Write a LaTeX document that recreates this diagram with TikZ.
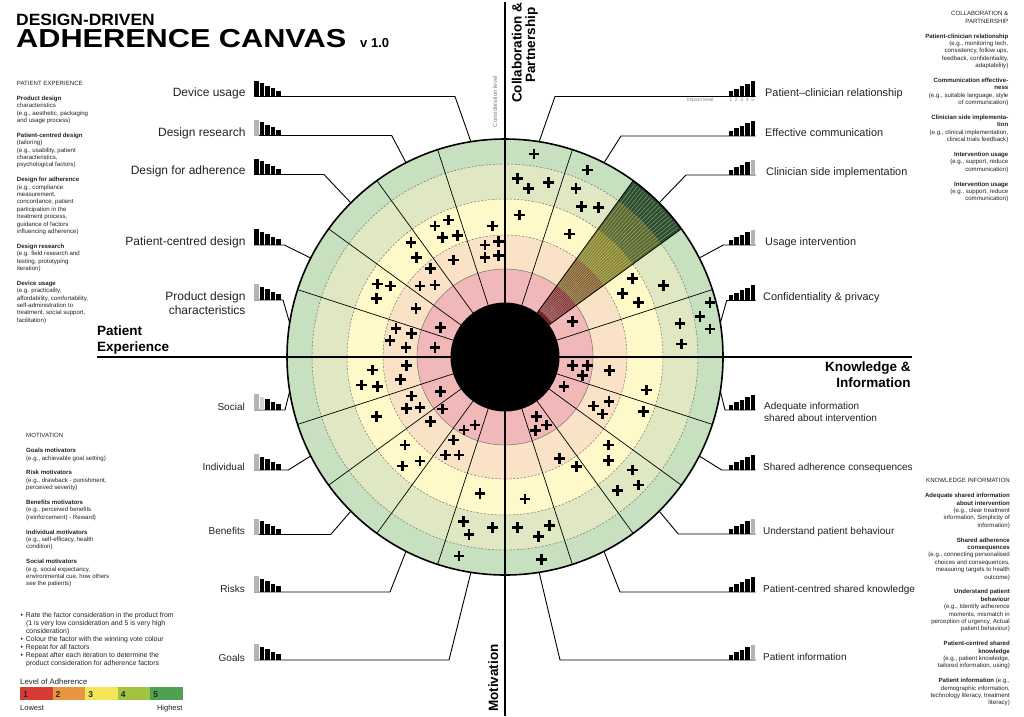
\documentclass[tikz,border=0pt]{standalone}
\usepackage{fontspec}
\setmainfont{Liberation Sans}
\usetikzlibrary{calc}
\definecolor{ringA}{HTML}{F0B8B8}
\definecolor{ringB}{HTML}{FAE2C6}
\definecolor{ringC}{HTML}{FFF8C8}
\definecolor{ringD}{HTML}{DFE8C2}
\definecolor{ringE}{HTML}{C6E0C0}
\definecolor{wA}{HTML}{6E1212}
\definecolor{wB}{HTML}{74501A}
\definecolor{wC}{HTML}{7E7C1E}
\definecolor{wD}{HTML}{4F5E20}
\definecolor{wE}{HTML}{1E4220}
\definecolor{barg}{HTML}{B4B4B4}
\definecolor{bargl}{HTML}{D2D2D2}
\definecolor{txt}{HTML}{222222}
\definecolor{lvA}{HTML}{D83A34}
\definecolor{lvB}{HTML}{E8963E}
\definecolor{lvC}{HTML}{F4E558}
\definecolor{lvD}{HTML}{A2C340}
\definecolor{lvE}{HTML}{4FA152}
\newcommand{\leftbarglyph}[4]{%
  \fill[#3] (#1,#2) rectangle ++(4.7,-16);
  \fill[#4] ({#1+5.5},#2) rectangle ++(4.7,-13.5);
  \fill[black] ({#1+11},#2) rectangle ++(4.7,-11);
  \fill[black] ({#1+16.5},#2) rectangle ++(4.7,-8.5);
  \fill[black] ({#1+22},#2) rectangle ++(4.7,-6);}
\newcommand{\rightbarglyph}[3]{%
  \fill[black] (#1,#2) rectangle ++(4.7,-5.5);
  \fill[black] ({#1+5.5},#2) rectangle ++(4.7,-8);
  \fill[black] ({#1+11},#2) rectangle ++(4.7,-10.5);
  \fill[black] ({#1+16.5},#2) rectangle ++(4.7,-13);
  \fill[#3] ({#1+22},#2) rectangle ++(4.7,-15.5);}
\begin{document}
\begin{tikzpicture}[x=1pt,y=-1pt,
  lab/.style={font=\fontsize{12}{13.5}\selectfont, text=txt, inner sep=0pt},
  labm/.style={font=\fontsize{10.9}{12.5}\selectfont, text=txt, inner sep=0pt},
  labs/.style={font=\fontsize{10}{12}\selectfont, text=txt, inner sep=0pt},
  note/.style={font=\fontsize{6.1}{7.4}\selectfont, text=txt, inner sep=0pt},
  conn/.style={line width=0.9pt},
  radline/.style={line width=0.7pt},
  dashring/.style={dash pattern=on 2pt off 1.6pt, line width=0.45pt, black!60},
  axisline/.style={line width=1.8pt},
  quad/.style={font=\bfseries\fontsize{13.5}{15}\selectfont, inner sep=0pt},
  tiny/.style={font=\fontsize{5}{5}\selectfont, text=black!50, inner sep=0pt},
  crossmark/.pic={\draw[line width=2.7pt] (-5.2,0) -- (5.2,0) (0,-5.2) -- (0,5.2);}
]
\useasboundingbox[fill=white] (0,0) rectangle (1024,716);
\coordinate (O) at (505,357);
% rings
\fill[ringE] (O) circle[radius=218pt];
\fill[ringD] (O) circle[radius=193pt];
\fill[ringC] (O) circle[radius=158pt];
\fill[ringB] (O) circle[radius=122pt];
\fill[ringA] (O) circle[radius=88pt];
\draw[dashring] (O) circle[radius=193pt] (O) circle[radius=158pt] (O) circle[radius=122pt];
\draw[line width=0.5pt, black!55] (O) circle[radius=88pt];
% highlighted wedge
\foreach \ri/\ro/\c in {54.5/88/wA, 88/122/wB, 122/158/wC, 158/193/wD, 193/218/wE}
  \fill[\c, opacity=0.92] ($(O)+(36:\ri pt)$) arc[start angle=36, end angle=54, radius=\ri pt]
     -- ($(O)+(54:\ro pt)$) arc[start angle=54, end angle=36, radius=\ro pt] -- cycle;
\foreach \a in {36.9,37.8,...,53.3}
  \draw[white, opacity=0.45, line width=0.45pt] ($(O)+(\a:58pt)$) -- ($(O)+(\a:216pt)$);
% radial lines
\foreach \a in {0,18,...,342}
  \draw[radline] ($(O)+(\a:54pt)$) -- ($(O)+(\a:218pt)$);
% crosses
\foreach \u/\v in {762/42, 712/115, 745/145, 805/128, 922/90, 888/145, 905/200, 955/203, 718/225, 868/282, 1058/415, 1028/460, 1075/488, 1150/437, 1290/488, 1260/530, 1290/567, 1200/550, 1205/612, 878/545,
 465/258, 505/240, 487/292, 532/287, 638/258, 615/315, 655/305, 615/352, 655/347, 393/307, 410/352, 520/360, 452/385, 420/438, 465/435, 292/432, 332/438, 290/475, 408/505, 348/565, 395/580, 330/602, 378/622, 482/562, 465/622,
 380/676, 278/690, 245/735, 292/740, 362/718, 395/768, 380/805, 420/803, 482/755, 487/807, 290/830, 452/845, 552/870, 585/855, 520/900, 497/945, 537/945, 375/915, 420/963, 368/978, 600/1060, 550/1145, 567/1183, 638/1162, 537/1248,
 878/677, 922/677, 907/707, 988/692, 852/740, 1100/750, 940/798, 987/785, 967/822, 1090/815, 770/830, 800/855, 767/872, 985/915, 985/962, 838/955, 890/980, 1058/990, 1075/1035, 1012/1052, 735/1077, 712/1163, 775/1190, 808/1157, 785/1258}
  \pic at ({\u/3+280},{\v/3+140}) {crossmark};
% hub
\fill[black] (O) circle[radius=54.5pt];
% axes
\coordinate (axL) at (97,357); \coordinate (axR) at (912,357);
\coordinate (axT) at (505,2); \coordinate (axB) at (505,716);
\draw[axisline] (axL) -- (axR);
\draw[axisline] (axT) -- (axB);
\draw[line width=1.6pt] (O) circle[radius=218pt];
% left connectors
\foreach \n/\a/\ex/\yy in {DU/99/455/96.5, DR/117/391.7/135.5, DA/135/324/174.5, PC/153/284.3/245, PD/171/283/300, SO/189/285/410, IN/207/288.3/470, BE/225/330.7/534.5, RI/243/390/592, GO/261/449/660}
{ \coordinate (e\n) at (\ex,\yy); \coordinate (b\n) at (254,\yy);
  \coordinate (c\n) at ($(O)+(\a:218pt)$);
  \draw[conn] (b\n) -- (e\n) -- (c\n); }
% right connectors
\foreach \n/\a/\ex/\yy in {PR/81/555/96.5, EC/63/621/136, CS/45/686/175, UI/27/723.3/245, CP/9/726.7/300.5, AI/-9/725/410, SA/-27/721.7/470, UB/-45/678.3/534, PS/-63/620/592, PI/-81/560/660}
{ \coordinate (e\n) at (\ex,\yy); \coordinate (b\n) at (755.5,\yy);
  \coordinate (c\n) at ($(O)+(\a:218pt)$);
  \draw[conn] (b\n) -- (e\n) -- (c\n); }
% bar glyphs left
\leftbarglyph{254}{96.5}{black}{black}
\leftbarglyph{254}{135.5}{barg}{black}
\leftbarglyph{254}{174.5}{black}{black}
\leftbarglyph{254}{245}{black}{black}
\leftbarglyph{254}{300}{barg}{black}
\leftbarglyph{254}{410}{barg}{bargl}
\leftbarglyph{254}{470}{barg}{black}
\leftbarglyph{254}{534.5}{barg}{black}
\leftbarglyph{254}{592}{barg}{black}
\leftbarglyph{254}{660}{barg}{black}
% bar glyphs right
\rightbarglyph{728.5}{96.5}{black}
\rightbarglyph{728.5}{136}{black}
\rightbarglyph{728.5}{175}{barg}
\rightbarglyph{728.5}{245}{barg}
\rightbarglyph{728.5}{300.5}{black}
\rightbarglyph{728.5}{410}{black}
\rightbarglyph{728.5}{470}{black}
\rightbarglyph{728.5}{534}{barg}
\rightbarglyph{728.5}{592}{black}
\rightbarglyph{728.5}{660}{barg}
% left labels
\node[lab, anchor=base east] (tDU) at (245.7,96.7) {Device usage};
\node[lab, anchor=base east] (tDR) at (245.7,136) {Design research};
\node[lab, anchor=base east] (tDA) at (245.7,174.5) {Design for adherence};
\node[lab, anchor=base east] (tPC) at (245.7,245) {Patient-centred design};
\node[lab, anchor=base east] (tPD) at (245.7,300.7) {Product design};
\node[lab, anchor=base east] (tPDb) at (245.7,314.3) {characteristics};
\node[labs, anchor=base east] (tSO) at (245,410) {Social};
\node[labs, anchor=base east] (tIN) at (245,470) {Individual};
\node[labs, anchor=base east] (tBE) at (245,534) {Benefits};
\node[labs, anchor=base east] (tRI) at (245,592.3) {Risks};
\node[labs, anchor=base east] (tGO) at (245,661) {Goals};
% right labels
\node[labm, anchor=base west] (tPR) at (765,96) {Patient--clinician relationship};
\node[labm, anchor=base west] (tEC) at (765,136) {Effective communication};
\node[labm, anchor=base west] (tCS) at (766,175) {Clinician side implementation};
\node[labm, anchor=base west] (tUI) at (765,245) {Usage intervention};
\node[labm, anchor=base west] (tCP) at (763,300.7) {Confidentiality \& privacy};
\node[labs, anchor=base west] (tAI) at (764,409.3) {Adequate information};
\node[labs, anchor=base west] (tAIb) at (764,421.7) {shared about intervention};
\node[labs, anchor=base west] (tSA) at (763,470) {Shared adherence consequences};
\node[labs, anchor=base west] (tUB) at (763,534.3) {Understand patient behaviour};
\node[labs, anchor=base west] (tPS) at (763,592.3) {Patient-centred shared knowledge};
\node[labs, anchor=base west] (tPI) at (763,660.7) {Patient information};
% impact / consideration
\node[tiny, anchor=base west] (impact) at (686.7,101.8) {Impact level};
\foreach \i in {1,...,5}
  \node[tiny, anchor=base] (imp\i) at ({730.85+5.5*(\i-1)},101.8) {\i};
\node[tiny, font=\fontsize{6}{6}\selectfont, rotate=90] (consid) at (495,101.5) {Consideration level};
% quadrant titles
\node[quad, anchor=base west] (qP1) at (97,335) {Patient};
\node[quad, anchor=base west] (qP2) at (97,351.5) {Experience};
\node[quad, anchor=base east] (qK1) at (910.7,371) {Knowledge \&};
\node[quad, anchor=base east] (qK2) at (910.7,387.5) {Information};
\node[quad, rotate=90, anchor=base west] (qC1) at (521.7,103) {Collaboration \&};
\node[quad, rotate=90, anchor=base] (qC2) at (535,45) {Partnership};
\node[quad, rotate=90, anchor=base west] (qM) at (498,712) {Motivation};
% title
\node[font=\bfseries\fontsize{16.3}{17}\selectfont, anchor=base west, inner sep=0] (title1) at (16,25) {\scalebox{1.07}[1]{DESIGN-DRIVEN}};
\node[font=\bfseries\fontsize{26}{27}\selectfont, anchor=base west, inner sep=0] (title2) at (16,47.7) {\scalebox{1.18}[1]{ADHERENCE CANVAS}};
\node[font=\bfseries\fontsize{13}{14}\selectfont, anchor=base west, inner sep=0] (title3) at (360,47.7) {v 1.0};
% left notes
\node[note, align=left, anchor=north west] (notePE) at (16.7,81) {PATIENT EXPERIENCE\\[7.4pt]
\textbf{Product design}\\
characteristics\\
(e.g., aesthetic, packaging\\
and usage process)\\[7.4pt]
\textbf{Patient-centred design}\\
(tailoring)\\
(e.g., usability, patient\\
characteristics,\\
psychological factors)\\[7.4pt]
\textbf{Design for adherence}\\
(e.g., compliance\\
measurement,\\
concordance, patient\\
participation in the\\
treatment process,\\
guidance of factors\\
influencing adherence)\\[7.4pt]
\textbf{Design research}\\
(e.g. field research and\\
testing, prototyping\\
iteration)\\[7.4pt]
\textbf{Device usage}\\
(e.g. practicality,\\
affordability, comfortability,\\
self-administration to\\
treatment, social support,\\
facilitation)};
\node[note, align=left, anchor=north west] (noteMO) at (26,433.4) {MOTIVATION\\[7.4pt]
\textbf{Goals motivators}\\
(e.g., achievable goal setting)\\[7.4pt]
\textbf{Risk motivators}\\
(e.g., drawback - punishment,\\
perceived severity)\\[7.4pt]
\textbf{Benefits motivators}\\
(e.g., perceived benefits\\
(reinforcement) - Reward)\\[7.4pt]
\textbf{Individual motivators}\\
(e.g., self-efficacy, health\\
condition)\\[7.4pt]
\textbf{Social motivators}\\
(e.g. social expectancy,\\
environmental cue, how others\\
see the patients)};
% right notes
\node[note, align=right, anchor=north east] (noteCP) at (1008.5,11.5) {COLLABORATION \&\\
PARTNERSHIP\\[7.4pt]
\textbf{Patient-clinician relationship}\\
(e.g., monitoring tech,\\
consistency, follow ups,\\
feedback, confidentiality,\\
adaptability)\\[7.4pt]
\textbf{Communication effective-}\\
\textbf{ness}\\
(e.g., suitable language, style\\
of communication)\\[7.4pt]
\textbf{Clinician side implementa-}\\
\textbf{tion}\\
(e.g., clinical implementation,\\
clinical trials feedback)\\[7.4pt]
\textbf{Intervention usage}\\
(e.g., support, reduce\\
communication)\\[7.4pt]
\textbf{Intervention usage}\\
(e.g., support, reduce\\
communication)};
\node[note, align=right, anchor=north east] (noteKI) at (1010,478.5) {KNOWLEDGE INFORMATION\\[7.4pt]
\textbf{Adequate shared information}\\
\textbf{about intervention}\\
(e.g., clear treatment\\
information, Simplicity of\\
information)\\[7.4pt]
\textbf{Shared adherence}\\
\textbf{consequences}\\
(e.g., connecting personalised\\
choices and consequences,\\
measuring targets to health\\
outcome)\\[7.4pt]
\textbf{Understand patient}\\
\textbf{behaviour}\\
(e.g., Identify adherence\\
moments, mismatch in\\
perception of urgency, Actual\\
patient behaviour)\\[7.4pt]
\textbf{Patient-centred shared}\\
\textbf{knowledge}\\
(e.g., patient knowledge,\\
tailored information, using)\\[7.4pt]
\textbf{Patient information} (e.g.,\\
demographic information,\\
technology literacy, treatment\\
literacy)};
% instructions
\node[font=\fontsize{6.9}{8}\selectfont, text=txt, inner sep=0, align=left, anchor=north west] (instr) at (20.5,612.3) {%
\makebox[5.3pt][l]{\textbullet}Rate the factor consideration in the product from\\
\hspace*{5.3pt}(1 is very low consideration and 5 is very high\\
\hspace*{5.3pt}consideration)\\
\makebox[5.3pt][l]{\textbullet}Colour the factor with the winning vote colour\\
\makebox[5.3pt][l]{\textbullet}Repeat for all factors\\
\makebox[5.3pt][l]{\textbullet}Repeat after each iteration to determine the\\
\hspace*{5.3pt}product consideration for adherence factors};
% level legend
\node[font=\fontsize{7.8}{8}\selectfont, text=txt, inner sep=0, anchor=base west] (lvtitle) at (20,684) {Level of Adherence};
\foreach \i/\c/\k in {0/lvA/1,1/lvB/2,2/lvC/3,3/lvD/4,4/lvE/5}
{ \fill[\c] ({20+32.54*\i},687.3) rectangle ++(32.54,12.7);
  \node[font=\bfseries\fontsize{8.5}{9}\selectfont, text=black!85, anchor=base west, inner sep=0] (lv\k) at ({23+32.54*\i},697.8) {\k}; }
\node[font=\fontsize{7.5}{8}\selectfont, text=txt, inner sep=0, anchor=base west] (lvlow) at (20,710.5) {Lowest};
\node[font=\fontsize{7.5}{8}\selectfont, text=txt, inner sep=0, anchor=base east] (lvhigh) at (182.7,710.5) {Highest};
\end{tikzpicture}
\end{document}
